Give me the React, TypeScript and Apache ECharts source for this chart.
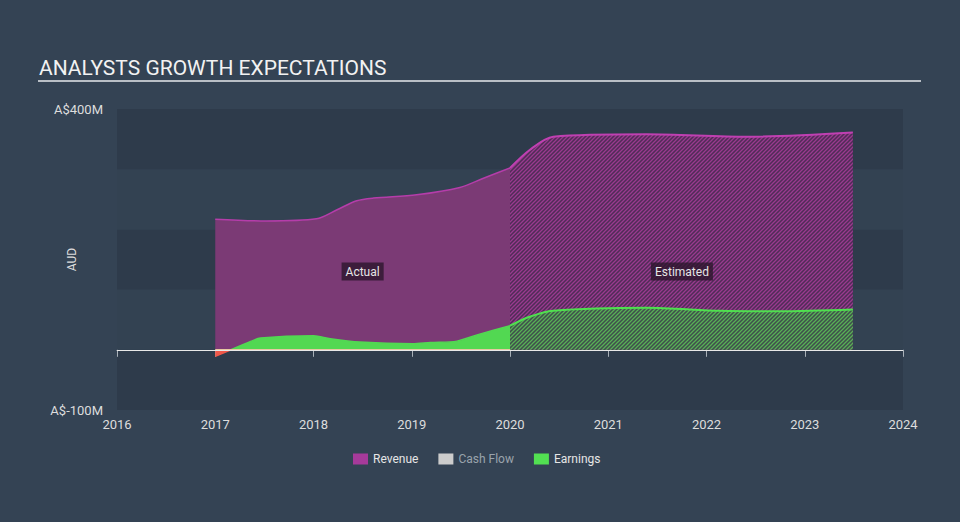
import React, { useEffect, useRef } from "react";
import * as echarts from "echarts";

const revenueActual: [number, number][] = [
  [2017.0, 217], [2017.52, 214], [2018.03, 217.6], [2018.24, 232.6], [2018.44, 247.6],
  [2018.61, 252], [2019.05, 257.5], [2019.49, 269.7], [2019.73, 285], [2020.0, 302],
];
const revenueEstimated: [number, number][] = [
  [2020.0, 302], [2020.2, 332], [2020.44, 354], [2021.39, 358], [2022.41, 354], [2023.49, 361],
];
const earningsActual: [number, number][] = [
  [2017.0, -11], [2017.16, 0], [2017.36, 13.8], [2017.46, 19.4], [2018.0, 23.2], [2018.17, 18.3],
  [2018.47, 12.8], [2019.01, 10], [2019.19, 12.1], [2019.46, 14.4], [2019.69, 26], [2020.0, 40],
];
const earningsEstimated: [number, number][] = [
  [2020.0, 40], [2020.2, 55], [2020.44, 65], [2021.39, 69.8], [2022.14, 64.8], [2022.75, 64], [2023.49, 67],
];
const cashFlow: [number, number][] = [
  [2017.0, 0], [2020.0, 0],
];
const yTickLabels: Record<number, string> = { 400: "A$400M", [-100]: "A$-100M" };
const regionLabels = [
  { name: "Actual", coord: [2018.5, 130] },
  { name: "Estimated", coord: [2021.75, 130] },
];

function makePattern(base: string, stripe: string) {
  const c = document.createElement("canvas");
  const p = 4;
  c.width = p;
  c.height = p;
  const ctx = c.getContext("2d")!;
  ctx.fillStyle = base;
  ctx.fillRect(0, 0, p, p);
  ctx.strokeStyle = stripe;
  ctx.lineWidth = 1.3;
  ctx.beginPath();
  ctx.moveTo(-1, p + 1);
  ctx.lineTo(p + 1, -1);
  ctx.moveTo(-1, 1);
  ctx.lineTo(1, -1);
  ctx.moveTo(p - 1, p + 1);
  ctx.lineTo(p + 1, p - 1);
  ctx.stroke();
  return { image: c, repeat: "repeat" } as any;
}

export default function App() {
  const ref = useRef<HTMLDivElement>(null);
  useEffect(() => {
    if (!ref.current) return;
    const chart = echarts.init(ref.current, undefined, { renderer: "svg" });
    const font = "Roboto";
    const revPattern = makePattern("rgba(82,42,88,0.92)", "#9a3a8f");
    const earnPattern = makePattern("#3f4f4c", "#58b056");
    const negIdx = earningsActual.findIndex((d) => d[1] >= 0);
    const earnNeg = earningsActual.slice(0, negIdx + 1);
    const earnPos = earningsActual.slice(negIdx);

    chart.setOption({
      animation: false,
      backgroundColor: "#344354",
      textStyle: { fontFamily: font },
      title: {
        text: "ANALYSTS GROWTH EXPECTATIONS",
        left: 34,
        top: 52,
        textStyle: { fontSize: 21, fontWeight: "normal", color: "#f2f2f2", fontFamily: font },
      },
      graphic: [
        {
          type: "line",
          shape: { x1: 38, y1: 81, x2: 921, y2: 81 },
          style: { stroke: "#b9bfc6", lineWidth: 2 },
          silent: true,
        },
      ],
      legend: {
        bottom: 52,
        left: 348,
        itemWidth: 15,
        itemHeight: 11,
        itemGap: 20,
        icon: "rect",
        textStyle: { color: "#e6e6e6", fontSize: 12, fontFamily: font },
        data: [
          { name: "Revenue" },
          { name: "Cash Flow", textStyle: { color: "#9aa3ac" } },
          { name: "Earnings" },
        ],
        selectedMode: false,
      },
      grid: { left: 117, right: 57, top: 109, bottom: 112 },
      xAxis: {
        type: "value",
        min: 2016,
        max: 2024,
        interval: 1,
        axisLine: { show: true, lineStyle: { color: "#a9b1b9", width: 1 } },
        axisTick: { show: true, length: 7, lineStyle: { color: "#a9b1b9" } },
        splitLine: { show: false },
        axisLabel: {
          color: "#dddddd",
          fontSize: 13,
          margin: 8,
          formatter: (v: number) => String(v),
        },
      },
      yAxis: {
        type: "value",
        min: -100,
        max: 400,
        interval: 100,
        name: "AUD",
        nameLocation: "middle",
        nameGap: 39,
        nameMoveOverlap: false,
        nameTextStyle: { color: "#dddddd", fontSize: 12 },
        axisLine: { show: false },
        axisTick: { show: false },
        splitLine: { show: false },
        splitArea: { show: true, areaStyle: { color: ["#2e3b4b", "#334252"] } },
        axisLabel: {
          color: "#dddddd",
          fontSize: 13,
          margin: 14,
          formatter: (v: number) => yTickLabels[v] ?? "",
        },
      },
      series: [
        {
          name: "Revenue",
          type: "line",
          data: revenueActual,
          smooth: 0.3,
          symbol: "none",
          itemStyle: { color: "#a63a9a" },
          lineStyle: { color: "#b53daa", width: 1.5 },
          areaStyle: { color: "#7b3a75", opacity: 1 },
          z: 2,
          markPoint: {
            symbol: "rect",
            symbolSize: 0,
            silent: true,
            label: {
              show: true,
              position: "inside",
              formatter: "{b}",
              color: "#e6e6e6",
              fontSize: 12,
              backgroundColor: "rgba(45,22,45,0.8)",
              padding: [3, 4, 3, 4],
            },
            data: regionLabels.map((r) => ({ name: r.name, coord: r.coord })),
          },
        },
        {
          name: "Revenue",
          type: "line",
          data: revenueEstimated,
          smooth: 0.3,
          symbol: "none",
          itemStyle: { color: "#a63a9a" },
          lineStyle: { color: "#c040b2", width: 2 },
          areaStyle: { color: revPattern, opacity: 1 },
          z: 2,
        },
        {
          name: "Cash Flow",
          type: "line",
          data: cashFlow,
          symbol: "none",
          itemStyle: { color: "#cccccc" },
          lineStyle: { color: "#e6c9a2", width: 1.5 },
          z: 4,
        },
        {
          name: "Earnings",
          type: "line",
          data: earnNeg,
          symbol: "none",
          itemStyle: { color: "#52e052" },
          lineStyle: { color: "#f0584a", width: 1.5 },
          areaStyle: { color: "#f0584a", opacity: 1 },
          z: 3,
        },
        {
          name: "Earnings",
          type: "line",
          data: earnPos,
          smooth: 0.3,
          symbol: "none",
          itemStyle: { color: "#52e052" },
          lineStyle: { color: "#52d852", width: 1.5 },
          areaStyle: { color: "#52d852", opacity: 1 },
          z: 3,
        },
        {
          name: "Earnings",
          type: "line",
          data: earningsEstimated,
          smooth: 0.3,
          symbol: "none",
          itemStyle: { color: "#52e052" },
          lineStyle: { color: "#4fe04f", width: 2 },
          areaStyle: { color: earnPattern, opacity: 1 },
          z: 3,
          markLine: {
            silent: true,
            symbol: "none",
            label: { show: false },
            lineStyle: { color: "#e8e8e8", width: 1, type: "solid" },
            data: [{ yAxis: 0 }],
          },
        },
      ],
    });
    return () => chart.dispose();
  }, []);
  return (
    <div
      ref={ref}
      style={{ position: "fixed", left: 0, top: 0, width: 960, height: 522 }}
    />
  );
}
